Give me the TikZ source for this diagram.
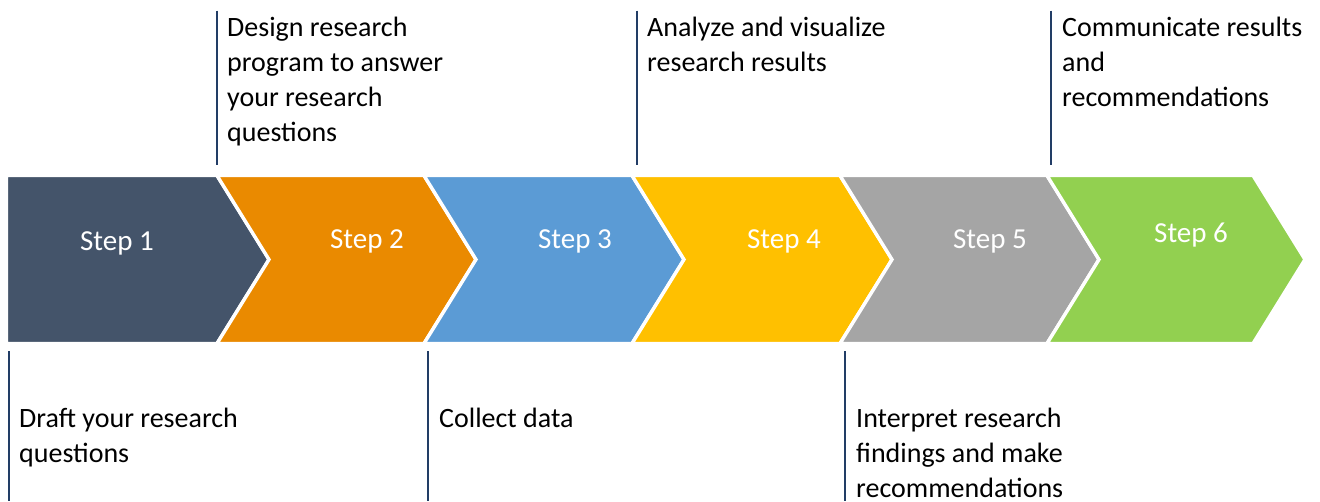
\documentclass[tikz,border=0pt]{standalone}
\usepackage{fontspec}
\setmainfont{Carlito}
\definecolor{c1}{HTML}{44546A}
\definecolor{c2}{HTML}{EA8A00}
\definecolor{c3}{HTML}{5B9BD5}
\definecolor{c4}{HTML}{FFC000}
\definecolor{c5}{HTML}{A5A5A5}
\definecolor{c6}{HTML}{92D050}
\definecolor{navy}{HTML}{223D66}
\tikzset{
  chev/.style={draw=white, line width=3.4pt, line join=miter},
  steplabel/.style={text=white, font=\fontsize{29}{35}\selectfont, anchor=base, inner sep=0pt},
  desc/.style={text=black, font=\fontsize{28}{35}\selectfont, align=left, anchor=north west, inner sep=0pt},
  tick/.style={draw=navy, line width=2pt},
}
\begin{document}
\begin{tikzpicture}[x=1pt,y=-1pt]
\useasboundingbox[fill=white] (0,0) rectangle (1320,501);
\def\T{175.5}\def\B{343.5}\def\M{259.5}\def\D{52}
% chevrons
\fill[c1,chev] (6.3,\T) -- (217,\T) -- (217+\D,\M) -- (217,\B) -- (6.3,\B) -- cycle;
\fill[c2,chev] (217,\T) -- (424,\T) -- (424+\D,\M) -- (424,\B) -- (217,\B) -- (217+\D,\M) -- cycle;
\fill[c3,chev] (424,\T) -- (632,\T) -- (632+\D,\M) -- (632,\B) -- (424,\B) -- (424+\D,\M) -- cycle;
\fill[c4,chev] (632,\T) -- (840,\T) -- (840+\D,\M) -- (840,\B) -- (632,\B) -- (632+\D,\M) -- cycle;
\fill[c5,chev] (840,\T) -- (1047,\T) -- (1047+\D,\M) -- (1047,\B) -- (840,\B) -- (840+\D,\M) -- cycle;
\fill[c6,chev] (1047,\T) -- (1253,\T) -- (1253+\D,\M) -- (1253,\B) -- (1047,\B) -- (1047+\D,\M) -- cycle;
% step labels
\node[steplabel] (s1) at (117,250.5) {Step 1};
\node[steplabel] (s2) at (367,248.7) {Step 2};
\node[steplabel] (s3) at (575,248.7) {Step 3};
\node[steplabel] (s4) at (784,248.7) {Step 4};
\node[steplabel] (s5) at (990,248.5) {Step 5};
\node[steplabel] (s6) at (1191,242.5) {Step 6};
% tick lines
\coordinate (t2a) at (217,10.5); \coordinate (t2b) at (217,165);
\coordinate (t4a) at (637,10.5); \coordinate (t4b) at (637,165);
\coordinate (t6a) at (1051,10.5); \coordinate (t6b) at (1051,165);
\coordinate (b1a) at (9,351); \coordinate (b1b) at (9,501);
\coordinate (b3a) at (428,351); \coordinate (b3b) at (428,501);
\coordinate (b5a) at (845,351); \coordinate (b5b) at (845,501);
\draw[tick] (t2a) -- (t2b);
\draw[tick] (t4a) -- (t4b);
\draw[tick] (t6a) -- (t6b);
\draw[tick] (b1a) -- (b1b);
\draw[tick] (b3a) -- (b3b);
\draw[tick] (b5a) -- (b5b);
% descriptions
\node[desc] (d2) at (227,17) {Design research\\program to answer\\your research\\questions};
\node[desc] (d4) at (647,17) {Analyze and visualize\\research results};
\node[desc] (d6) at (1062,17) {Communicate results\\and\\recommendations};
\node[desc] (d1) at (19,408) {Draft your research\\questions};
\node[desc] (d3) at (439,408) {Collect data};
\node[desc] (d5) at (856,408) {Interpret research\\findings and make\\recommendations};
\end{tikzpicture}
\end{document}
